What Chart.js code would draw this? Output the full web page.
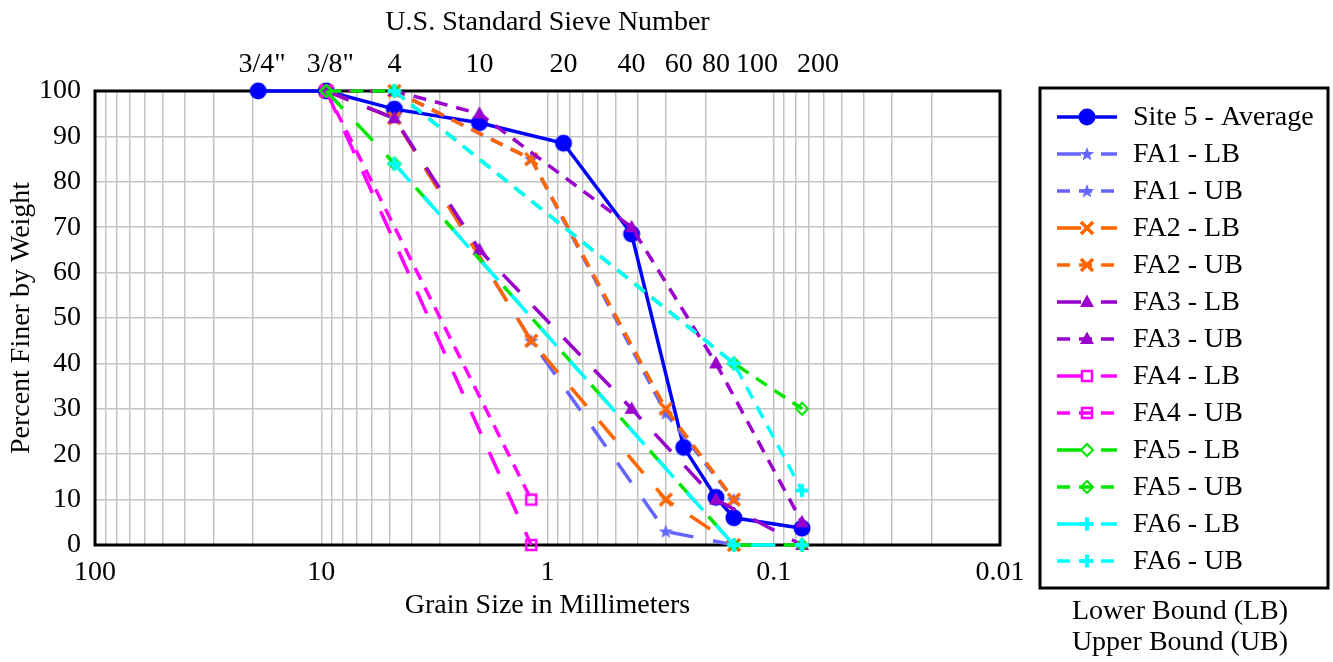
<!DOCTYPE html>
<html>
<head>
<meta charset="utf-8">
<title>Site 5 gradation</title>
<script src="https://cdn.jsdelivr.net/npm/chart.js@4.4.1/dist/chart.umd.min.js"></script>
<style>
  html, body { margin: 0; padding: 0; background: #fff; }
  #wrap { width: 1333px; height: 662px; position: relative; }
</style>
</head>
<body>
<div id="wrap"><canvas id="chart"></canvas></div>
<script>
"use strict";

// sieve openings (mm) and their names on the top axis
const sieveSizes = [19, 9.5, 4.75, 2.0, 0.85, 0.425, 0.25, 0.18, 0.15, 0.075];
const sieveLabels = ['3/4"', '3/8"', "4", "10", "20", "40", "60", "80", "100", "200"];

// measured sample
const siteSizes = [19, 9.5, 4.75, 2.0, 0.85, 0.425, 0.25, 0.18, 0.15, 0.075];
const siteFiner = [100, 100, 96, 93, 88.5, 68.5, 21.5, 10.5, 6, 3.7];

// spec bands: size in mm, percent passing
const fa1Sizes = [9.5, 4.75, 1.18, 0.3, 0.15];
const fa1Lower = [100, 94, 45, 3, 0];
const fa1Upper = [100, 100, 85, 29, 10];

const fa2Sizes = [9.5, 4.75, 1.18, 0.3, 0.15];
const fa2Lower = [100, 94, 45, 10, 0];
const fa2Upper = [100, 100, 85, 30, 10];

const fa3Sizes = [9.5, 4.75, 2.0, 0.425, 0.18, 0.075];
const fa3Lower = [100, 94, 65, 30, 10, 0];
const fa3Upper = [100, 100, 95, 70, 40, 5];

const fa4Sizes = [9.5, 1.18];
const fa4Lower = [100, 0];
const fa4Upper = [100, 10];

const fa5Sizes = [9.5, 4.75, 0.15, 0.075];
const fa5Lower = [100, 84, 0, 0];
const fa5Upper = [100, 100, 40, 30];

const fa6Sizes = [4.75, 0.15, 0.075];
const fa6Lower = [84, 0, 0];
const fa6Upper = [100, 40, 12];

// bottom axis: grid at 1..9 of every decade, labels on the decades
const decades = [0.01, 0.1, 1, 10];
const multiples = [1, 2, 3, 4, 5, 6, 7, 8, 9];

// the top labels that were pushed sideways so they don't collide
const labelNudge = { '3/4"': 4, '3/8"': 4, "60": -5, "100": 23, "200": 16 };

const serif = '"Liberation Serif", "Times New Roman", serif';
const LB_DASH = [24, 20];
const UB_DASH = [13, 9];

function pts(sizes, vals) {
    return sizes.map((s, i) => ({ x: s, y: vals[i] }));
}

function makeMarker(kind, color) {
    const size = 22;
    const c = document.createElement("canvas");
    c.width = size;
    c.height = size;
    const g = c.getContext("2d");
    const m = size / 2;
    g.strokeStyle = color;
    g.fillStyle = color;
    g.lineWidth = 3;
    g.beginPath();
    if (kind === "circle") {
        g.arc(m, m, 8.5, 0, Math.PI * 2);
        g.fill();
    } else if (kind === "star") {
        for (let i = 0; i < 10; i++) {
            let r = i % 2 === 0 ? 7.5 : 3.1;
            let a = -Math.PI / 2 + i * Math.PI / 5;
            let px = m + r * Math.cos(a), py = m + 0.5 + r * Math.sin(a);
            if (i === 0) g.moveTo(px, py); else g.lineTo(px, py);
        }
        g.closePath();
        g.fill();
    } else if (kind === "x") {
        g.lineWidth = 3.5;
        g.moveTo(m - 6, m - 6); g.lineTo(m + 6, m + 6);
        g.moveTo(m + 6, m - 6); g.lineTo(m - 6, m + 6);
        g.stroke();
    } else if (kind === "triangle") {
        g.moveTo(m, m - 7.5); g.lineTo(m + 7, m + 5); g.lineTo(m - 7, m + 5);
        g.closePath();
        g.fill();
    } else if (kind === "square") {
        g.lineWidth = 2.5;
        g.strokeRect(m - 5, m - 5, 10, 10);
    } else if (kind === "diamond") {
        g.lineWidth = 2;
        g.moveTo(m, m - 6); g.lineTo(m + 6, m); g.lineTo(m, m + 6); g.lineTo(m - 6, m);
        g.closePath();
        g.stroke();
    } else if (kind === "cross") {
        g.lineWidth = 4;
        g.moveTo(m - 6.5, m); g.lineTo(m + 6.5, m);
        g.moveTo(m, m - 6.5); g.lineTo(m, m + 6.5);
        g.stroke();
    }
    return c;
}

function series(label, data, color, dash, marker) {
    return {
        label: label,
        data: data,
        showLine: true,
        fill: false,
        tension: 0,
        borderColor: color,
        backgroundColor: color,
        borderWidth: 3.5,
        borderDash: dash,
        borderCapStyle: "butt",
        pointStyle: makeMarker(marker, color),
        pointRadius: 6,
        clip: false
    };
}

const colBlue = "#0000ff", col1 = "#6666ff", col2 = "#ff6600", col3 = "#9900cc",
      col4 = "#ff00ff", col5 = "#00e600", col6 = "#00ffff";

const datasets = [
    series("Site 5 - Average", pts(siteSizes, siteFiner), colBlue, [], "circle"),
    series("FA1 - LB", pts(fa1Sizes, fa1Lower), col1, LB_DASH, "star"),
    series("FA1 - UB", pts(fa1Sizes, fa1Upper), col1, UB_DASH, "star"),
    series("FA2 - LB", pts(fa2Sizes, fa2Lower), col2, LB_DASH, "x"),
    series("FA2 - UB", pts(fa2Sizes, fa2Upper), col2, UB_DASH, "x"),
    series("FA3 - LB", pts(fa3Sizes, fa3Lower), col3, LB_DASH, "triangle"),
    series("FA3 - UB", pts(fa3Sizes, fa3Upper), col3, UB_DASH, "triangle"),
    series("FA4 - LB", pts(fa4Sizes, fa4Lower), col4, LB_DASH, "square"),
    series("FA4 - UB", pts(fa4Sizes, fa4Upper), col4, UB_DASH, "square"),
    series("FA5 - LB", pts(fa5Sizes, fa5Lower), col5, LB_DASH, "diamond"),
    series("FA5 - UB", pts(fa5Sizes, fa5Upper), col5, UB_DASH, "diamond"),
    series("FA6 - LB", pts(fa6Sizes, fa6Lower), col6, LB_DASH, "cross"),
    series("FA6 - UB", pts(fa6Sizes, fa6Upper), col6, UB_DASH, "cross")
];
datasets[0].borderWidth = 3.5;
// FA5 UB runs under FA6 UB from No.4 on; shift its dashes so they line up
// (the 3/8" -> No.4 stretch is ~68px long, dash period 22)
datasets[10].borderDashOffset = 20;
// later entries sit on top, like the original
datasets.forEach((d, i) => { d.order = datasets.length - i; });

const gridValues = [];
for (let d of decades) {
    for (let k of multiples) gridValues.push(Number((d * k).toPrecision(6)));
}
gridValues.push(100);

function isDecade(v) {
    let l = Math.log10(v);
    return Math.abs(l - Math.round(l)) < 1e-9;
}

const frameAndLegend = {
    id: "frameAndLegend",
    beforeDatasetsDraw(chart) {
        const a = chart.chartArea, ctx = chart.ctx;
        ctx.save();
        ctx.strokeStyle = "#000";
        ctx.lineWidth = 3;
        ctx.strokeRect(a.left, a.top, a.right - a.left, a.bottom - a.top);
        ctx.restore();
    },
    afterDraw(chart) {
        const ctx = chart.ctx, a = chart.chartArea;
        const top = chart.scales.x2;
        ctx.save();
        ctx.fillStyle = "#000";
        ctx.font = "28px " + serif;
        ctx.textAlign = "center";
        ctx.textBaseline = "middle";
        // sieve numbers on the top edge
        for (let i = 0; i < sieveSizes.length; i++) {
            let x = top.getPixelForValue(sieveSizes[i]) + (labelNudge[sieveLabels[i]] || 0);
            ctx.fillText(sieveLabels[i], x, a.top - 26);
        }

        // legend box
        ctx.strokeStyle = "#000";
        ctx.lineWidth = 3;
        ctx.strokeRect(1040, 88, 288, 500);
        ctx.textAlign = "left";
        for (let i = 0; i < datasets.length; i++) {
            let d = datasets[i];
            let y = 117 + i * 37;
            ctx.save();
            ctx.strokeStyle = d.borderColor;
            ctx.lineWidth = 3.5;
            ctx.setLineDash(d.borderDash);
            ctx.beginPath();
            ctx.moveTo(1057, y);
            ctx.lineTo(1117, y);
            ctx.stroke();
            ctx.restore();
            ctx.drawImage(d.pointStyle, 1087 - 11, y - 11);
            ctx.fillText(d.label, 1133, y + 1);
        }

        ctx.textAlign = "center";
        ctx.fillText("Lower Bound (LB)", 1180, 612);
        ctx.fillText("Upper Bound (UB)", 1180, 643);
        ctx.restore();
    }
};

Chart.defaults.font.family = serif;
Chart.defaults.font.size = 28;
Chart.defaults.color = "#000";

const gridStyle = { color: "#c4c4c4", lineWidth: 1.5, drawTicks: false };

new Chart(document.getElementById("chart"), {
    type: "scatter",
    data: { datasets: datasets },
    options: {
        responsive: true,
        maintainAspectRatio: false,
        animation: false,
        events: [],
        layout: { padding: { left: 0, top: 0, right: 333, bottom: 0 } },
        plugins: {
            legend: { display: false },
            tooltip: { enabled: false }
        },
        scales: {
            x: {
                type: "logarithmic",
                position: "bottom",
                min: 0.01,
                max: 100,
                reverse: true,
                afterBuildTicks(s) { s.ticks = gridValues.map(v => ({ value: v })); },
                afterFit(s) { s.height = 117; },
                grid: gridStyle,
                border: { display: false },
                ticks: {
                    autoSkip: false,
                    maxRotation: 0,
                    padding: 11,
                    callback: v => isDecade(v) ? String(Number(v.toPrecision(6))) : ""
                },
                title: {
                    display: true,
                    text: "Grain Size in Millimeters",
                    padding: { top: 0, bottom: 40 }
                }
            },
            x2: {
                type: "logarithmic",
                position: "top",
                min: 0.01,
                max: 100,
                reverse: true,
                afterFit(s) { s.height = 91; },
                grid: { display: false, drawTicks: false },
                border: { display: false },
                ticks: { display: false },
                title: {
                    display: true,
                    text: "U.S. Standard Sieve Number",
                    padding: { top: 6, bottom: 0 }
                }
            },
            y: {
                min: 0,
                max: 100,
                afterFit(s) { s.width = 95; },
                grid: gridStyle,
                border: { display: false },
                ticks: { stepSize: 10, padding: 14 },
                title: {
                    display: true,
                    text: "Percent Finer by Weight",
                    padding: { top: 5, bottom: 0 }
                }
            }
        }
    },
    plugins: [frameAndLegend]
});
</script>
</body>
</html>
